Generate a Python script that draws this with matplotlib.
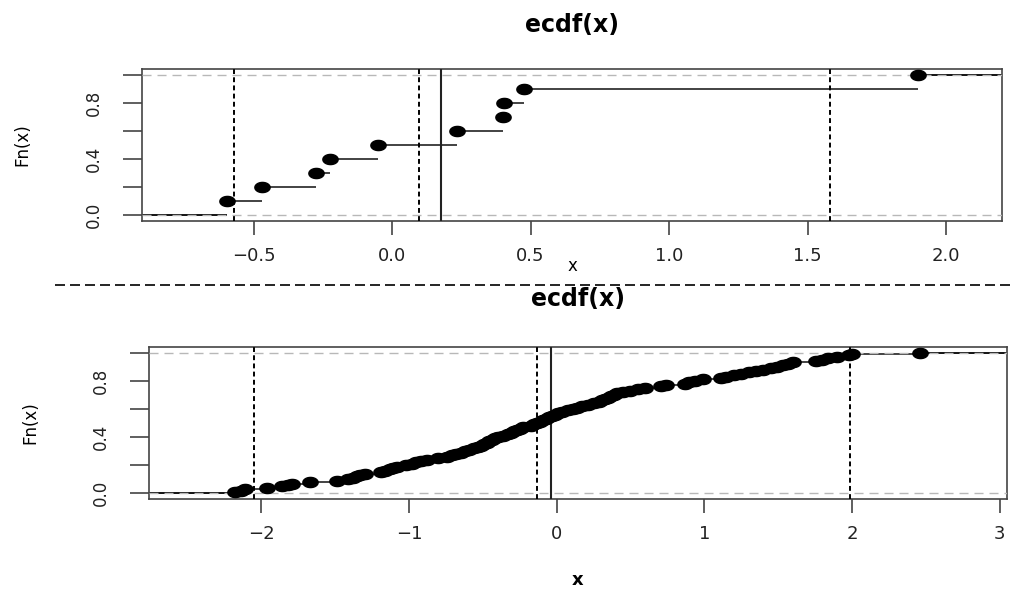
import numpy as np
import matplotlib
matplotlib.use("Agg")
import matplotlib.pyplot as plt
from matplotlib.path import Path
from matplotlib.lines import Line2D

# first sample (n = 10)
x_small = [-0.595, -0.47, -0.275, -0.226, -0.052, 0.236, 0.40, 0.403, 0.478, 1.90]
small_mean = 0.176
small_dashed = [-0.57, 0.096, 1.58]
small_xticks = [-0.5, 0.0, 0.5, 1.0, 1.5, 2.0]
small_xlabels = ["\u22120.5", "0.0", "0.5", "1.0", "1.5", "2.0"]

# second sample (n = 100)
x_large = [-2.18, -2.14, -2.11, -1.96, -1.86, -1.82, -1.79, -1.67, -1.49, -1.41,
           -1.38, -1.35, -1.33, -1.30, -1.19, -1.16, -1.13, -1.11, -1.08, -1.02,
           -0.98, -0.95, -0.92, -0.88, -0.80, -0.74, -0.71, -0.68, -0.65, -0.62,
           -0.59, -0.56, -0.53, -0.51, -0.49, -0.47, -0.46, -0.44, -0.42, -0.40,
           -0.36, -0.33, -0.31, -0.29, -0.27, -0.25, -0.23, -0.17, -0.15, -0.13,
           -0.11, -0.09, -0.07, -0.05, -0.03, -0.01, 0.01, 0.04, 0.08, 0.11,
           0.14, 0.17, 0.21, 0.25, 0.29, 0.31, 0.33, 0.35, 0.37, 0.39,
           0.41, 0.45, 0.50, 0.55, 0.60, 0.71, 0.74, 0.87, 0.90, 0.94,
           0.99, 1.11, 1.15, 1.20, 1.25, 1.30, 1.35, 1.40, 1.45, 1.49,
           1.53, 1.57, 1.60, 1.76, 1.80, 1.84, 1.90, 1.98, 2.00, 2.46]
large_mean = -0.037
large_dashed = [-2.046, -0.134, 1.987]
large_xticks = [-2, -1, 0, 1, 2, 3]
large_xlabels = ["\u22122", "\u22121", "0", "1", "2", "3"]

y_ticks = [0.0, 0.2, 0.4, 0.6, 0.8, 1.0]
y_labels = ["0.0", "", "0.4", "", "0.8", ""]

W, H = 1013, 590

# the original picture is stretched sideways, so the dots are ellipses
t = np.linspace(0, 2 * np.pi, 41)
dot = Path(np.column_stack([1.5 * np.cos(t), np.sin(t)]), closed=True)


def draw_ecdf(ax, data, mean, dashed, xlim, xticks, xlabels):
    xs = np.sort(np.asarray(data))
    n = len(xs)
    fn = np.arange(1, n + 1) / n
    ax.set_xlim(*xlim)
    ax.set_ylim(-0.04, 1.04)

    ax.hlines(0, xlim[0], xs[0], color="black", lw=1.3, zorder=2)
    ax.hlines(fn[:-1], xs[:-1], xs[1:], color="#222222", lw=1.2, zorder=2)
    ax.hlines(1, xs[-1], xlim[1], color="black", lw=1.3, zorder=2)
    ax.plot(xs, fn, ls="none", marker=dot, ms=11, color="black", zorder=4)

    for h in (0, 1):
        ax.axhline(h, color="#b8b8b8", lw=1.0, ls=(0, (6.5, 4.3)), zorder=3)
    for v in dashed:
        ax.axvline(v, color="black", lw=1.4, ls=(0, (2.5, 1.7)), zorder=3)
    ax.axvline(mean, color="#222222", lw=1.5, zorder=3)

    ax.set_xticks(xticks)
    ax.set_xticklabels(xlabels, fontsize=13, color="#222222")
    ax.set_yticks(y_ticks)
    ax.set_yticklabels(y_labels, fontsize=12, rotation=90, va="center", color="#222222")
    ax.tick_params(axis="x", length=10, width=1.2, color="#444444", pad=9)
    ax.tick_params(axis="y", length=14, width=1.2, color="#444444", pad=14)
    for s in ax.spines.values():
        s.set_color("#444444")
        s.set_linewidth(1.2)


def fx(px):
    return px / W


def fy(py):
    return 1 - py / H


fig = plt.figure(figsize=(W / 100, H / 100), dpi=100)

ax1 = fig.add_axes([fx(142), fy(221), (1002 - 142) / W, (221 - 69) / H])
draw_ecdf(ax1, x_small, small_mean, small_dashed, (-0.903, 2.202), small_xticks, small_xlabels)

ax2 = fig.add_axes([fx(149), fy(499), (1007 - 149) / W, (499 - 347) / H])
draw_ecdf(ax2, x_large, large_mean, large_dashed, (-2.76, 3.05), large_xticks, large_xlabels)

fig.text(fx(572), fy(25), "ecdf(x)", ha="center", va="center", fontsize=17, fontweight="bold")
fig.text(fx(578), fy(299), "ecdf(x)", ha="center", va="center", fontsize=17, fontweight="bold")
fig.text(fx(572), fy(266), "x", ha="center", va="center", fontsize=12)
fig.text(fx(578), fy(580), "x", ha="center", va="center", fontsize=13, fontweight="bold")
fig.text(fx(22), fy(145), "Fn(x)", ha="center", va="center", rotation=90, fontsize=12)
fig.text(fx(30), fy(423), "Fn(x)", ha="center", va="center", rotation=90, fontsize=12)

fig.add_artist(Line2D([fx(55), 1.0], [fy(285), fy(285)], transform=fig.transFigure,
                      color="black", lw=1.2, ls=(0, (6, 3))))

fig.savefig("out.png", dpi=100)
